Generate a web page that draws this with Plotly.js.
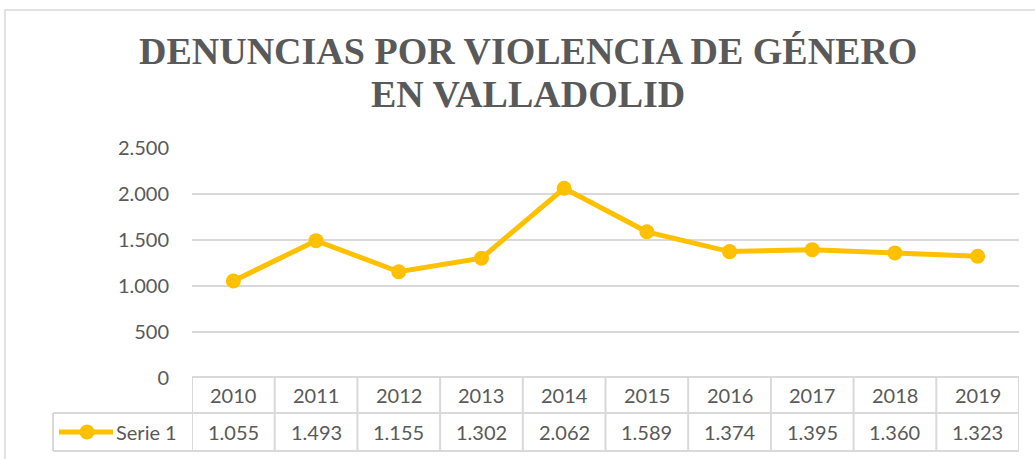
<!DOCTYPE html>
<html>
<head>
<meta charset="utf-8">
<script src="https://cdn.plot.ly/plotly-3.0.1.min.js"></script>
<style>html,body{margin:0;padding:0;background:#fff;}#chart{width:1035px;height:459px;}</style>
</head>
<body>
<div id="chart"></div>
<script>
const years = ["2010","2011","2012","2013","2014","2015","2016","2017","2018","2019"];
const serie1 = [1055, 1493, 1155, 1302, 2062, 1589, 1374, 1395, 1360, 1323];
const seriesName = "Serie 1";
const titleLines = ["DENUNCIAS POR VIOLENCIA DE GÉNERO", "EN VALLADOLID"];
const yTicks = [0, 500, 1000, 1500, 2000, 2500];

const W = 1035, H = 459;
const mL = 192, mR = 16, mT = 148, mB = 81;
const plotW = W - mL - mR, plotH = H - mT - mB;
const px2x = p => (p - mL) / plotW;           // pixel x -> paper x
const py2y = p => (H - mB - p) / plotH;        // pixel y -> paper y

const gold = "#FFC000";
const gridC = "#d9d9d9";
const textC = "#595959";
const sansFam = "Lato, 'Open Sans', sans-serif";
const cellFont = {family: sansFam, size: 20, color: textC};
const titleFont = {family: "'Liberation Serif', 'Times New Roman', serif", size: 38, color: textC, weight: "bold"};

const fmt = v => v.toLocaleString("de-DE");

const rowTop = 377, rowMid = 413, rowBot = 451, seriesLeft = 53;
const shapes = [];
const annotations = [];
const n = years.length;

// title lines
const titleCenters = [51, 94];
titleLines.forEach((t, k) => {
  annotations.push({xref:"paper", yref:"paper", x:px2x(528), y:py2y(titleCenters[k]), xanchor:"center", yanchor:"middle", text:t, showarrow:false, font:titleFont});
});

// table horizontal lines
shapes.push({type:"line", xref:"x", yref:"paper", x0:-0.5, x1:n-0.5, y0:py2y(rowTop), y1:py2y(rowTop), line:{color:gridC, width:2}});
shapes.push({type:"line", xref:"paper", yref:"paper", x0:px2x(seriesLeft), x1:1, y0:py2y(rowMid), y1:py2y(rowMid), line:{color:gridC, width:2}});
shapes.push({type:"line", xref:"paper", yref:"paper", x0:px2x(seriesLeft), x1:1, y0:py2y(rowBot), y1:py2y(rowBot), line:{color:gridC, width:2}});
// vertical lines
for (let i = 0; i <= n; i++) {
  shapes.push({type:"line", xref:"x", yref:"paper", x0:i-0.5, x1:i-0.5, y0:py2y(rowTop), y1:py2y(rowBot), line:{color:gridC, width:2}});
}
shapes.push({type:"line", xref:"paper", yref:"paper", x0:px2x(seriesLeft), x1:px2x(seriesLeft), y0:py2y(rowMid), y1:py2y(rowBot), line:{color:gridC, width:2}});

// outer chart border
shapes.push({type:"rect", xref:"paper", yref:"paper", x0:px2x(5), x1:px2x(1045), y0:py2y(470), y1:py2y(10), line:{color:gridC, width:1.5}, layer:"below"});

// legend key inside table
const keyY = py2y((rowMid + rowBot) / 2);
shapes.push({type:"line", xref:"paper", yref:"paper", x0:px2x(59), x1:px2x(113), y0:keyY, y1:keyY, line:{color:gold, width:5}});
shapes.push({type:"circle", xref:"paper", yref:"paper", xsizemode:"pixel", ysizemode:"pixel", xanchor:px2x(87), yanchor:keyY, x0:-7.5, x1:7.5, y0:-7.5, y1:7.5, fillcolor:gold, line:{width:0}});
annotations.push({xref:"paper", yref:"paper", x:px2x(114), y:keyY, xanchor:"left", yanchor:"middle", text:seriesName, showarrow:false, font:cellFont});

// table cells
years.forEach((yr, i) => {
  annotations.push({xref:"x", yref:"paper", x:i, y:py2y((rowTop + rowMid) / 2), xanchor:"center", yanchor:"middle", text:yr, showarrow:false, font:cellFont});
  annotations.push({xref:"x", yref:"paper", x:i, y:keyY, xanchor:"center", yanchor:"middle", text:fmt(serie1[i]), showarrow:false, font:cellFont});
});

const data = [{
  x: years, y: serie1, type: "scatter", mode: "lines+markers", name: seriesName,
  line: {color: gold, width: 5},
  marker: {color: gold, size: 15},
  cliponaxis: false
}];

const layout = {
  width: W, height: H,
  margin: {l: mL, r: mR, t: mT, b: mB, pad: 0},
  paper_bgcolor: "#fff", plot_bgcolor: "#fff",
  showlegend: false,
  separators: ",.",
  xaxis: {
    type: "category", range: [-0.5, n - 0.5],
    showgrid: false, zeroline: false, showline: false, showticklabels: false, ticks: "", fixedrange: true
  },
  yaxis: {
    range: [0, 2500], tickvals: yTicks, tickformat: ",d",
    showgrid: true, gridcolor: gridC, gridwidth: 1.5,
    zeroline: false, showline: false, ticks: "",
    ticklabelstandoff: 22,
    tickfont: {family: sansFam, size: 20, color: textC},
    fixedrange: true
  },
  shapes: shapes,
  annotations: annotations
};

Plotly.newPlot("chart", data, layout, {displayModeBar: false, staticPlot: true});
</script>
</body>
</html>
